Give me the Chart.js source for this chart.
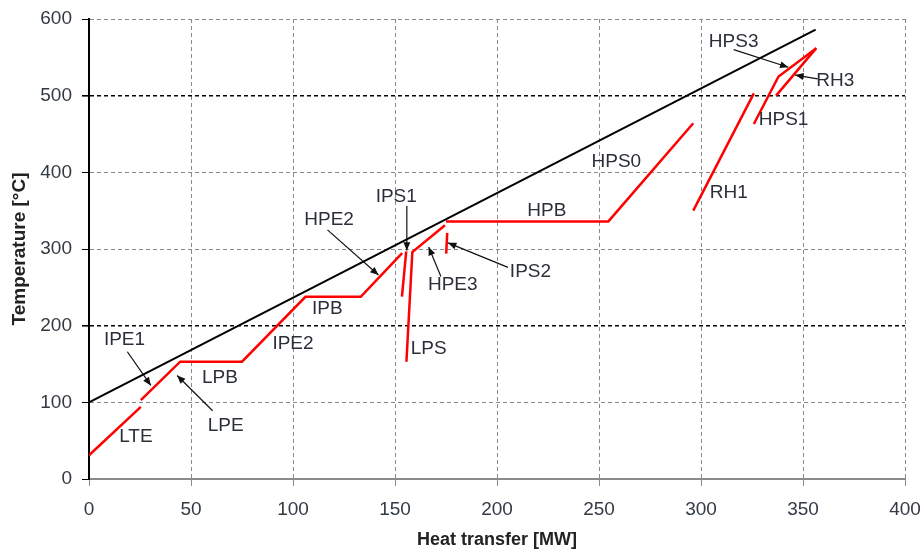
<!DOCTYPE html>
<html>
<head>
<meta charset="utf-8">
<script src="https://cdn.jsdelivr.net/npm/chart.js@4/dist/chart.umd.min.js"></script>
<style>
  html, body { margin: 0; padding: 0; background: #fff; }
  #wrap { width: 924px; height: 552px; }
</style>
</head>
<body>
<div id="wrap"><canvas id="tqChart" width="924" height="552"></canvas></div>
<script>
const ctx = document.getElementById('tqChart')

// hot gas side: straight cooling line
const gasQ = [0, 356.2]
const gasT = [100, 586]

// water / steam side, one polyline per continuous piece
const lteQ = [0, 25.4]
const lteT = [31, 94]
const ipeQ = [25.4, 44.7, 75, 106.1, 133.2, 153.5]   // IPE1, LPB, IPE2, IPB, HPE2
const ipeT = [103, 153, 153, 237.7, 237.7, 294.5]
const ips1Q = [153.4, 155.5]
const ips1T = [238, 297]
const lpsQ = [155.6, 158.5, 174.5]                      // LPS, HPE3
const lpsT = [153, 296, 331]
const ips2Q = [175.1, 175.6]
const ips2T = [294, 321]
const hpbQ = [175, 254.6, 296.2]                        // HPB, HPS0
const hpbT = [336, 336, 464]
const rh1Q = [296.2, 325.9]
const rh1T = [350, 503]
const hpsQ = [325.9, 338, 356.5]                        // HPS1, HPS3
const hpsT = [463, 525, 562]
const rh3Q = [336.8, 356.5]
const rh3T = [500, 562]

const xTicks = [0, 50, 100, 150, 200, 250, 300, 350, 400]
const yTicks = [0, 100, 200, 300, 400, 500, 600]

const redParts = [
    [lteQ, lteT], [ipeQ, ipeT], [ips1Q, ips1T], [lpsQ, lpsT], [ips2Q, ips2T],
    [hpbQ, hpbT], [rh1Q, rh1T], [hpsQ, hpsT], [rh3Q, rh3T],
]

const toPoints = (qs, ts) => qs.map((q, i) => ({ x: q, y: ts[i] }))

// section names: text at [q, t], optional arrow from -> to
const notes = [
    { text: 'LTE', at: [23, 55] },
    { text: 'IPE1', at: [17.4, 181], from: [18.8, 166], to: [30.3, 122] },
    { text: 'LPB', at: [64.2, 131.5] },
    { text: 'LPE', at: [67, 69.6], from: [60.6, 89], to: [43.2, 135] },
    { text: 'IPE2', at: [100, 176.5] },
    { text: 'IPB', at: [116.8, 222] },
    { text: 'HPE2', at: [117.7, 338], from: [116.9, 325], to: [141.9, 266] },
    { text: 'IPS1', at: [150.6, 368], from: [155.8, 356], to: [155.8, 298] },
    { text: 'LPS', at: [166.5, 169.6] },
    { text: 'HPE3', at: [178.3, 253], from: [172.5, 264], to: [166.5, 302.6] },
    { text: 'IPS2', at: [216.4, 270.6], from: [205.4, 276], to: [176, 308] },
    { text: 'HPB', at: [224.4, 350.5] },
    { text: 'HPS0', at: [258.5, 413.8] },
    { text: 'RH1', at: [313.6, 374] },
    { text: 'HPS1', at: [340.5, 468] },
    { text: 'HPS3', at: [316, 570], from: [316, 560], to: [342.8, 537] },
    { text: 'RH3', at: [365.8, 519.5], from: [357.2, 522], to: [346.2, 526.8] },
]

const datasets = [{
    data: toPoints(gasQ, gasT),
    borderColor: '#000',
    borderWidth: 2,
    showLine: true,
    pointRadius: 0,
}]
redParts.forEach(([qs, ts]) => {
    datasets.push({
        data: toPoints(qs, ts),
        borderColor: '#ff0000',
        borderWidth: 2.5,
        showLine: true,
        pointRadius: 0,
    })
})

const fontFamily = '"Liberation Sans", Arial, sans-serif'

const notesPlugin = {
    id: 'notes',
    afterDatasetsDraw(chart) {
        const c = chart.ctx
        const xs = chart.scales.x
        const ys = chart.scales.y
        const px = p => [xs.getPixelForValue(p[0]), ys.getPixelForValue(p[1])]
        c.save()
        c.font = '19px ' + fontFamily
        c.textAlign = 'center'
        c.textBaseline = 'middle'
        notes.forEach(n => {
            const [tx, ty] = px(n.at)
            c.fillStyle = '#2b2f3a'
            c.fillText(n.text, tx, ty)
            if (!n.from) return
            const [x1, y1] = px(n.from)
            const [x2, y2] = px(n.to)
            c.strokeStyle = '#111'
            c.lineWidth = 1.2
            c.beginPath()
            c.moveTo(x1, y1)
            c.lineTo(x2, y2)
            c.stroke()
            // arrow head
            const a = Math.atan2(y2 - y1, x2 - x1)
            const len = 9, w = 0.4
            c.fillStyle = '#111'
            c.beginPath()
            c.moveTo(x2, y2)
            c.lineTo(x2 - len * Math.cos(a - w), y2 - len * Math.sin(a - w))
            c.lineTo(x2 - len * Math.cos(a + w), y2 - len * Math.sin(a + w))
            c.closePath()
            c.fill()
        })
        c.restore()
    },
}

new Chart(ctx, {
    type: 'scatter',
    data: { datasets: datasets },
    options: {
        responsive: false,
        animation: false,
        layout: { padding: { top: 19, right: 19, left: 0, bottom: 0 } },
        scales: {
            x: {
                type: 'linear',
                min: 0,
                max: 400,
                afterBuildTicks: axis => { axis.ticks = xTicks.map(v => ({ value: v })) },
                afterFit: axis => {
                    axis.height = 73
                    axis.paddingLeft = 0
                    axis.paddingRight = 0
                },
                grid: {
                    color: ctx => ctx.tick && ctx.tick.value === 0 ? 'rgba(0,0,0,0)' : '#8a8a8a',
                    tickColor: '#8a8a8a',
                    tickLength: 7,
                    lineWidth: 1,
                },
                border: { display: true, color: '#8a8a8a', width: 2, dash: [4, 3] },
                ticks: {
                    color: '#333a44',
                    padding: 12,
                    font: { size: 19, family: fontFamily },
                    maxRotation: 0,
                },
                title: {
                    display: true,
                    text: 'Heat transfer [MW]',
                    color: '#222',
                    font: { size: 18, weight: 'bold', family: fontFamily },
                    padding: { top: 0, bottom: 1 },
                },
            },
            y: {
                type: 'linear',
                min: 0,
                max: 600,
                afterBuildTicks: axis => { axis.ticks = yTicks.map(v => ({ value: v })) },
                afterFit: axis => {
                    axis.width = 89
                    axis.paddingTop = 0
                    axis.paddingBottom = 0
                },
                grid: {
                    color: ctx => {
                        const v = ctx.tick && ctx.tick.value
                        if (v === 0) return 'rgba(0,0,0,0)'
                        return v === 200 || v === 500 ? '#000' : '#8a8a8a'
                    },
                    lineWidth: ctx => {
                        const v = ctx.tick && ctx.tick.value
                        return v === 200 || v === 500 ? 1.6 : 1
                    },
                    tickColor: '#000',
                    tickLength: 7,
                },
                border: { display: true, color: '#000', width: 2, dash: [4, 3] },
                ticks: {
                    color: '#333a44',
                    padding: 10,
                    font: { size: 19, family: fontFamily },
                },
                title: {
                    display: true,
                    text: 'Temperature [°C]',
                    color: '#222',
                    font: { size: 19, weight: 'bold', family: fontFamily },
                    padding: { top: 8, bottom: 0 },
                },
            },
        },
        plugins: {
            legend: { display: false },
            tooltip: { enabled: false },
        },
    },
    plugins: [notesPlugin],
})
</script>
</body>
</html>
